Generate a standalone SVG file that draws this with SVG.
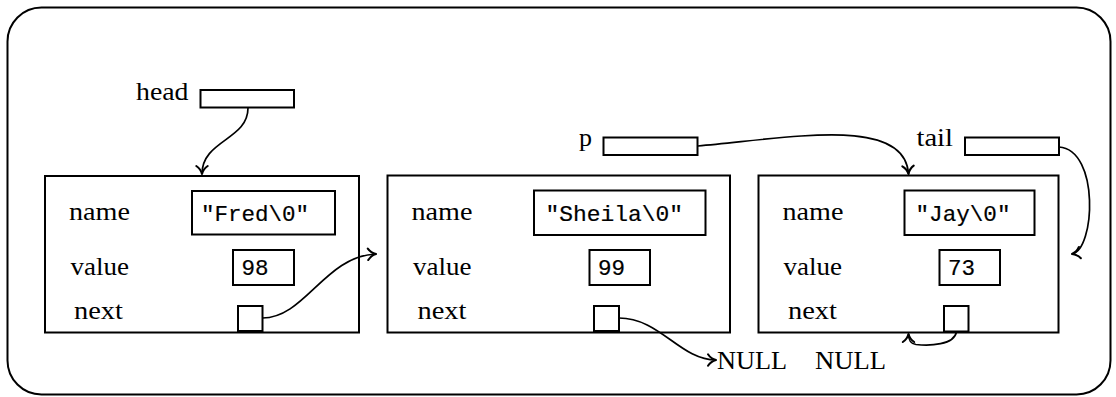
<svg xmlns="http://www.w3.org/2000/svg" width="1116" height="397" viewBox="0 0 1116 397">
<style>
.frame{fill:#fff;stroke:#000;stroke-width:2}
.box{fill:#fff;stroke:#000;stroke-width:2}
.lbl{font-family:"Liberation Serif","Times New Roman",serif;font-size:26px;fill:#000}
.tt{font-family:"Liberation Mono","Courier New",monospace;font-size:22.5px;fill:#000;stroke:#000;stroke-width:0.2}
.conn{fill:none;stroke:#000;stroke-width:1.7;marker-end:url(#arr)}
</style>
<defs>
<marker id="arr" markerUnits="userSpaceOnUse" markerWidth="16" markerHeight="16" viewBox="-9 -7 11 14" refX="0" refY="0" orient="auto">
<path d="M-7,-5 C-5,-2 -2,-0.5 0,0 C-2,0.5 -5,2 -7,5" fill="none" stroke="#000" stroke-width="1.8" stroke-linecap="round" stroke-linejoin="round"/>
</marker>
</defs>
<rect class="frame" x="7.5" y="7.5" width="1103" height="387" rx="34" ry="34"/>

<g id="head">
<text class="lbl" x="136" y="99.5" textLength="52.5" lengthAdjust="spacingAndGlyphs">head</text>
<rect class="box" x="200.5" y="90" width="93.5" height="17.5"/>
</g>
<g id="p">
<text class="lbl" x="579" y="146">p</text>
<rect class="box" x="603.5" y="137.5" width="94" height="17.5"/>
</g>
<g id="tail">
<text class="lbl" x="916.5" y="146" textLength="36.5" lengthAdjust="spacingAndGlyphs">tail</text>
<rect class="box" x="965" y="137.5" width="94" height="17.5"/>
</g>

<g id="node-fred">
<rect class="box" x="45" y="176" width="314" height="156.5"/>
<text class="lbl" x="69" y="219.5" textLength="61" lengthAdjust="spacingAndGlyphs">name</text>
<text class="lbl" x="70.5" y="275" textLength="58.5" lengthAdjust="spacingAndGlyphs">value</text>
<text class="lbl" x="74" y="319" textLength="49" lengthAdjust="spacingAndGlyphs">next</text>
<rect class="box" x="192" y="191" width="143" height="43.5"/>
<text class="tt" x="201" y="221" textLength="108" lengthAdjust="spacingAndGlyphs">"Fred\0"</text>
<rect class="box" x="233" y="250" width="61" height="35"/>
<text class="tt" x="241.5" y="275">98</text>
<rect class="box" x="238" y="306" width="24.5" height="25"/>
</g>

<g id="node-sheila">
<rect class="box" x="387.5" y="175.5" width="342.5" height="157"/>
<text class="lbl" x="411.5" y="220" textLength="61" lengthAdjust="spacingAndGlyphs">name</text>
<text class="lbl" x="413" y="275" textLength="58.5" lengthAdjust="spacingAndGlyphs">value</text>
<text class="lbl" x="417.5" y="319" textLength="49" lengthAdjust="spacingAndGlyphs">next</text>
<rect class="box" x="534" y="190.5" width="171.5" height="44.5"/>
<text class="tt" x="545.5" y="221" textLength="137.5" lengthAdjust="spacingAndGlyphs">"Sheila\0"</text>
<rect class="box" x="589.5" y="250" width="60.5" height="35"/>
<text class="tt" x="598" y="275">99</text>
<rect class="box" x="594" y="306" width="25" height="25"/>
</g>

<g id="node-jay">
<rect class="box" x="758.5" y="175.5" width="300" height="157"/>
<text class="lbl" x="782.5" y="220" textLength="61" lengthAdjust="spacingAndGlyphs">name</text>
<text class="lbl" x="783.5" y="275" textLength="58.5" lengthAdjust="spacingAndGlyphs">value</text>
<text class="lbl" x="788" y="319" textLength="49" lengthAdjust="spacingAndGlyphs">next</text>
<rect class="box" x="904.5" y="190.5" width="130" height="44.5"/>
<text class="tt" x="915.5" y="221" textLength="95" lengthAdjust="spacingAndGlyphs">"Jay\0"</text>
<rect class="box" x="939.5" y="250" width="60.5" height="35"/>
<text class="tt" x="948" y="275">73</text>
<rect class="box" x="944" y="306" width="24.5" height="25.5"/>
</g>

<g id="null1">
<text class="lbl" x="717" y="369" textLength="70" lengthAdjust="spacingAndGlyphs">NULL</text>
</g>
<g id="null2">
<text class="lbl" x="815" y="369" textLength="71" lengthAdjust="spacingAndGlyphs">NULL</text>
</g>

<g id="connectors">
<path class="conn" d="M248,108 C248,140 202,140 202,174"/>
<path class="conn" d="M262.5,318 C305,318 325,256 376,254"/>
<path class="conn" d="M619,318 C660,318 680,360 716,360"/>
<path class="conn" d="M698,146 C790,138 905,115 908.5,174"/>
<path class="conn" d="M1059,147 C1100,150 1095,250 1072,254"/>
<path class="conn" d="M956.5,332 C954,345 930,346 916,344.5 C910,343.5 908.5,340 908.5,334"/>
</g>
</svg>
